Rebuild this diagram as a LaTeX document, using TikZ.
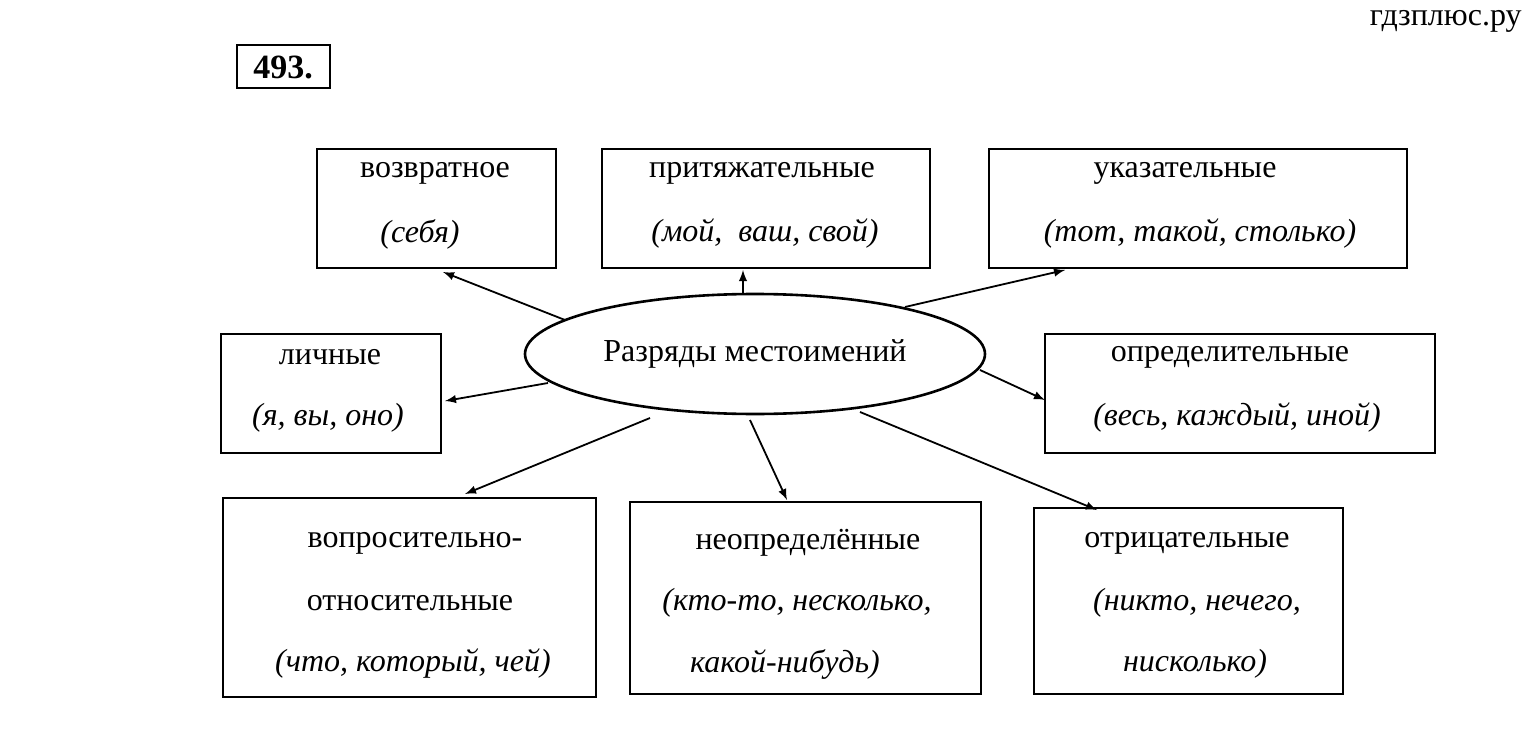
\documentclass[tikz,border=0pt]{standalone}
\usepackage{fontspec}
\setmainfont{Liberation Serif}
\usetikzlibrary{shapes.geometric}
\begin{document}
\begin{tikzpicture}[x=0.5pt,y=-0.5pt,
  box/.style={draw,line width=1.3pt},
  t/.style={font=\fontsize{16}{18}\selectfont,inner sep=0pt},
  it/.style={font=\fontsize{16}{18}\selectfont\itshape,inner sep=0pt},
  arr/.style={-latex,line width=0.9pt}]
\useasboundingbox (0,0) rectangle (1532,738);
\node[t,anchor=north east] (site) at (1522,10) {гдзплюс.ру};
\draw[box] (237,45) rectangle (330,88);
\node[t,font=\fontsize{17}{18}\selectfont\bfseries] (num) at (283,67) {493.};
\draw[box] (317,149) rectangle (556,268) node[pos=0,coordinate] (b1) {};
\node[t] (b1a) at (435,173) {возвратное};
\node[it] (b1b) at (420,234) {(себя)};
\draw[box] (602,149) rectangle (930,268);
\node[t] (b2a) at (762,173) {притяжательные};
\node[it] (b2b) at (765,234) {(мой,\ \ ваш, свой)};
\draw[box] (989,149) rectangle (1407,268);
\node[t] (b3a) at (1185,173) {указательные};
\node[it] (b3b) at (1200,234) {(тот, такой, столько)};
\draw[box] (221,334) rectangle (441,453);
\node[t] (b4a) at (330,357) {личные};
\node[it] (b4b) at (328,418) {(я, вы, оно)};
\draw[box] (1045,334) rectangle (1435,453);
\node[t] (b5a) at (1230,357) {определительные};
\node[it] (b5b) at (1237,418) {(весь, каждый, иной)};
\draw[box] (223,498) rectangle (596,697);
\node[t] (b6a) at (415,543) {вопросительно-};
\node[t] (b6b) at (410,603) {относительные};
\node[it] (b6c) at (413,664) {(что, который, чей)};
\draw[box] (630,502) rectangle (981,694);
\node[t] (b7a) at (808,543) {неопределённые};
\node[it] (b7b) at (797,603) {(кто-то, несколько,};
\node[it] (b7c) at (785,664) {какой-нибудь)};
\draw[box] (1034,508) rectangle (1343,694);
\node[t] (b8a) at (1187,543) {отрицательные};
\node[it] (b8b) at (1197,603) {(никто, нечего,};
\node[it] (b8c) at (1195,664) {нисколько)};
\node[draw,ellipse,line width=1.3pt,minimum width=230pt,minimum height=60pt,inner sep=0pt] (e) at (755,354) {};
\node[t] at (755,354) {Разряды местоимений};
\foreach \a/\b/\c/\d [count=\i] in {565/320/443/272, 743/294/743/270, 905/307/1065/270, 548/383/445/401, 980/370/1045/400, 650/418/465/494, 750/420/787/500, 860/412/1097/510}{
  \coordinate (s\i) at (\a,\b); \coordinate (e\i) at (\c,\d);
  \draw[arr] (s\i) -- (e\i);}
\end{tikzpicture}
\end{document}
